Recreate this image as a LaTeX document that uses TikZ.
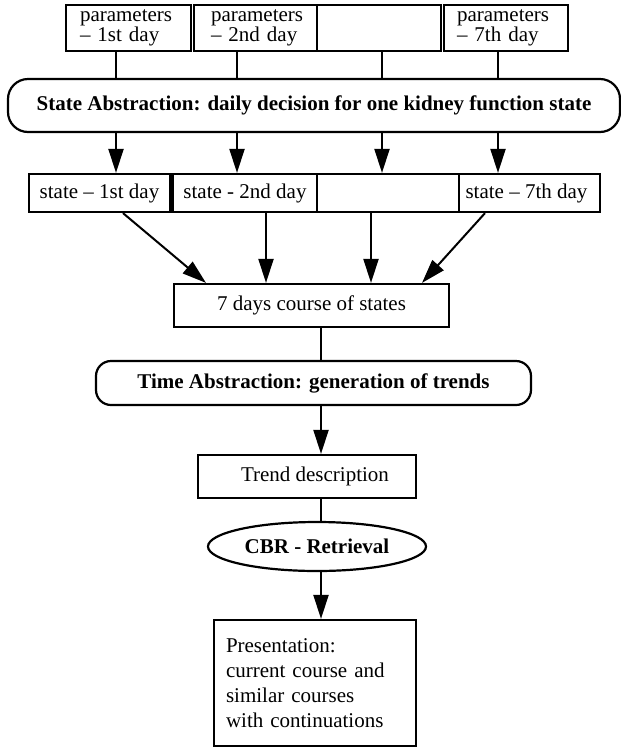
\documentclass[tikz,border=0pt]{standalone}
\usepackage{fontspec}
\setmainfont{Liberation Serif}
\usetikzlibrary{arrows.meta,shapes.geometric}

\tikzset{
  boxline/.style={draw, line width=2.2pt, inner sep=0pt, fill=white},
  parbox/.style={boxline, minimum height=46pt, align=left,
    font=\fontsize{21}{19.5}\selectfont},
  statebox/.style={boxline, minimum height=38pt,
    font=\fontsize{21}{24}\selectfont},
  plainbox/.style={boxline, minimum height=43pt,
    font=\fontsize{21}{24}\selectfont},
  stage/.style={boxline, font=\bfseries\fontsize{21}{24}\selectfont},
  link/.style={line width=2pt},
  flow/.style={line width=2pt, -{Triangle[length=24pt,width=15pt]}}
}

\begin{document}
\begin{tikzpicture}[x=1pt, y=-1pt]
\useasboundingbox (0,0) rectangle (621,748);

% daily parameter boxes
\node[parbox, text width=97pt, inner xsep=14pt] (p1) at (128.5,28)
  {parameters\\– 1st day};
\node[parbox, text width=89pt, inner xsep=17pt] (p2) at (255.5,28)
  {parameters\\– 2nd day};
\node[parbox, minimum width=124pt] (p3) at (379,28) {};
\node[parbox, text width=98pt, inner xsep=13pt] (p4) at (506,28)
  {parameters\\– 7th day};

% state abstraction
\node[stage, rounded corners=20pt, minimum width=612pt, minimum height=53pt]
  (sa) at (314,105.5)
  {State Abstraction: daily decision for one kidney function state};

% daily states
\node[statebox, minimum width=141pt] (s1) at (99.5,193) {state – 1st day};
\node[statebox, minimum width=145pt] (s2) at (245,193) {state - 2nd day};
\node[statebox, minimum width=142pt] (s3) at (388,193) {};
\node[statebox, minimum width=141pt] (s4) at (529.5,193)
  {\raisebox{-3pt}{state – 7th day\hspace{6pt}}};

% course of states
\node[plainbox, minimum width=275pt] (course) at (311.5,305.5)
  {7 days course of states\hspace{8pt}};

% time abstraction
\node[stage, rounded corners=15pt, minimum width=435pt, minimum height=44pt]
  (ta) at (313.5,383)
  {Time Abstraction: generation of trends\hspace{12pt}};

% trend description
\node[plainbox, minimum width=218pt] (trend) at (307,476.5)
  {\hspace{16pt}Trend description};

% retrieval
\node[stage, ellipse, minimum width=218pt, minimum height=49pt]
  (cbr) at (317,546.5) {\raisebox{-3pt}{CBR - Retrieval}};

% presentation
\node[boxline, minimum height=126pt, text width=178pt, inner xsep=12pt,
  align=left, font=\fontsize{21}{25}\selectfont] (pres) at (315,683)
  {Presentation:\\current course and\\similar courses\\with continuations};

% connector columns
\coordinate (c1) at (116,0);
\coordinate (c2) at (237,0);
\coordinate (c3) at (382,0);
\coordinate (c4) at (498,0);
\coordinate (m) at (321,0);

\foreach \i/\c in {1/c1,2/c2,3/c3,4/c4}{
  \draw[link] (p\i.south -| \c) -- (sa.north -| \c);
}
\draw[flow] (sa.south -| c1) -- (s1.north -| c1);
\draw[flow] (sa.south -| c2) -- (s2.north -| c2);
\draw[flow] (sa.south -| c3) -- (s3.north -| c3);
\draw[flow] (sa.south -| c4) -- (s4.north -| c4);

% states into the course
\coordinate (d1) at (123,0);
\coordinate (e1) at (206,0);
\coordinate (d2) at (266,0);
\coordinate (d3) at (371,0);
\coordinate (d4) at (485,0);
\coordinate (e4) at (422,0);
\draw[flow] (s1.south -| d1) -- (course.north -| e1);
\draw[flow] (s2.south -| d2) -- (course.north -| d2);
\draw[flow] (s3.south -| d3) -- (course.north -| d3);
\draw[flow] (s4.south -| d4) -- (course.north -| e4);

% main column
\draw[link] (course.south -| m) -- (ta.north -| m);
\draw[flow] (ta.south -| m) -- (trend.north -| m);
\draw[link] (trend.south -| m) -- (cbr.north -| m);
\draw[flow] (cbr.south -| m) -- (pres.north -| m);
\end{tikzpicture}
\end{document}
